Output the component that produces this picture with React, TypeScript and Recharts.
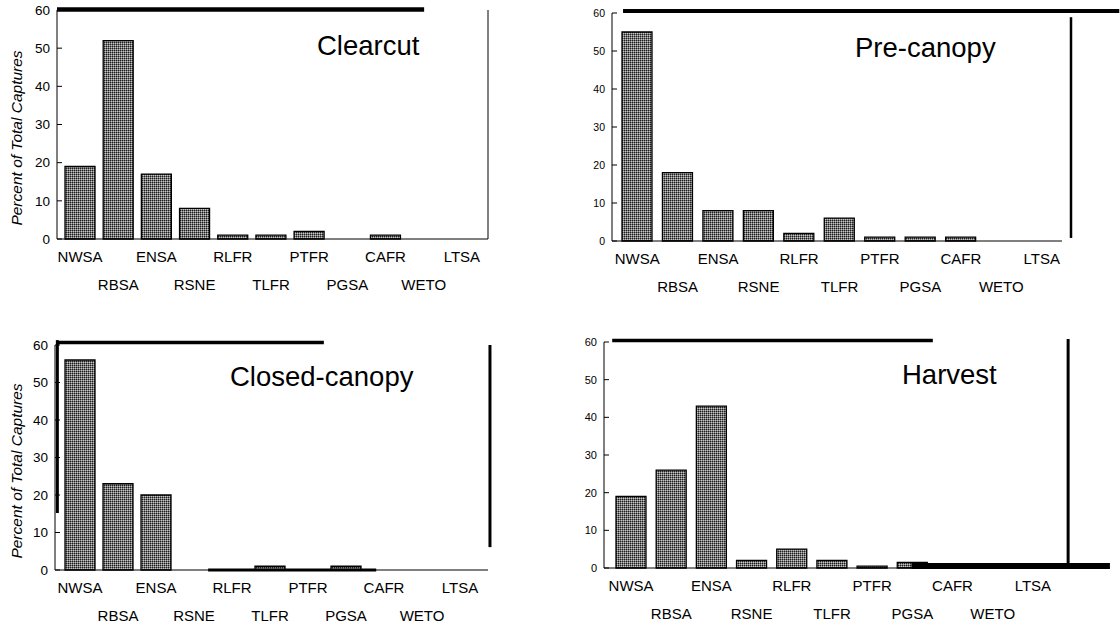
import React from "react";
import { BarChart, Bar, XAxis, YAxis, ReferenceLine } from "recharts";

const species = ["NWSA", "RBSA", "ENSA", "RSNE", "RLFR", "TLFR", "PTFR", "PGSA", "CAFR", "WETO", "LTSA"];

// percent of total captures per habitat
const clearcut = [19, 52, 17, 8, 1, 1, 2, 0, 1, 0, 0];
const preCanopy = [55, 18, 8, 8, 2, 6, 1, 1, 1, 0, 0];
const closedCanopy = [56, 23, 20, 0, 0, 1, 0, 1, 0, 0, 0];
const harvest = [19, 26, 43, 2, 5, 2, 0.5, 1.5, 0, 0, 0];

const yTicks = [0, 10, 20, 30, 40, 50, 60];

const FONT = "'Liberation Sans', Arial, Helvetica, sans-serif";

type Seg = { x1: number; x2: number; y1: number; y2: number; w: number };

const panels = [
  {
    id: "cc",
    title: "Clearcut",
    values: clearcut,
    left: 0,
    top: 0,
    margin: { top: 10, right: 72, left: 27, bottom: 14 },
    xHeight: 60,
    pad: { left: 4, right: 7 },
    yFont: 13.5,
    yLabelY: 138,
    titleX: 317,
    titleY: 55,
    frame: [
      { x1: 0, x2: 9.37, y1: 60.1, y2: 60.1, w: 4.5 },
      { x1: 11, x2: 11, y1: 0, y2: 60, w: 1 },
    ] as Seg[],
  },
  {
    id: "pc",
    title: "Pre-canopy",
    values: preCanopy,
    left: 560,
    top: 0,
    margin: { top: 13, right: 58, left: 22, bottom: 12 },
    xHeight: 60,
    pad: { left: 5, right: 0 },
    yFont: 10.5,
    yLabelY: null,
    titleX: 295,
    titleY: 57,
    frame: [
      { x1: 0.27, x2: 12.4, y1: 60.5, y2: 60.5, w: 4 },
      { x1: 11.22, x2: 11.22, y1: 0.8, y2: 58.9, w: 2.5 },
    ] as Seg[],
  },
  {
    id: "cl",
    title: "Closed-canopy",
    values: closedCanopy,
    left: 0,
    top: 313,
    margin: { top: 32, right: 72, left: 25, bottom: 6 },
    xHeight: 50,
    pad: { left: 6, right: 9 },
    yFont: 13.5,
    yLabelY: 158,
    titleX: 230,
    titleY: 73,
    frame: [
      { x1: 0.05, x2: 6.83, y1: 60.7, y2: 60.7, w: 3.5 },
      { x1: 0.06, x2: 0.06, y1: 15.2, y2: 61.3, w: 3 },
      { x1: 11.05, x2: 11.05, y1: 6.1, y2: 60, w: 3 },
      { x1: 3.89, x2: 8.16, y1: 0, y2: 0, w: 3 },
    ] as Seg[],
  },
  {
    id: "hv",
    title: "Harvest",
    values: harvest,
    left: 560,
    top: 313,
    margin: { top: 29, right: 65, left: 14, bottom: 8 },
    xHeight: 50,
    pad: { left: 7, right: 2 },
    yFont: 11,
    yLabelY: null,
    titleX: 342,
    titleY: 71,
    frame: [
      { x1: 0.2, x2: 8.02, y1: 60.4, y2: 60.4, w: 3.5 },
      { x1: 11.32, x2: 11.32, y1: 1.3, y2: 60.8, w: 3 },
      { x1: 7.5, x2: 12.34, y1: 0.5, y2: 0.5, w: 6 },
    ] as Seg[],
  },
];

const StaggerTick = (props: any) => {
  const { x, y, payload } = props;
  const i = species.indexOf(payload.value);
  return (
    <text x={x} y={y + (i % 2 === 0 ? 15 : 43)} textAnchor="middle" fontSize={15} fontFamily={FONT} fill="#000">
      {payload.value}
    </text>
  );
};

function Panel({ p }: { p: (typeof panels)[number] }) {
  // slot = position of the species along a 0..11 strip, used by the frame axis
  const data = species.map((s, i) => ({ species: s, pct: p.values[i], slot: i + 0.5 }));
  const pat = `dots-${p.id}`;
  return (
    <div style={{ position: "absolute", left: p.left, top: p.top }}>
      <BarChart width={560} height={313} data={data} margin={p.margin} barSize={30}>
        <defs>
          <pattern id={pat} width={2} height={2} patternUnits="userSpaceOnUse">
            <rect width={2} height={2} fill="#767676" />
            <rect width={1} height={1} fill="#1e1e1e" />
            <rect x={1} y={1} width={1} height={1} fill="#c4c4c4" />
          </pattern>
        </defs>
        <XAxis
          dataKey="species"
          interval={0}
          tickLine={false}
          axisLine={{ stroke: "#000" }}
          height={p.xHeight}
          padding={p.pad}
          tick={<StaggerTick />}
        />
        <XAxis
          xAxisId="frame"
          dataKey="slot"
          type="number"
          domain={[0, 11]}
          ticks={[0, 11]}
          allowDataOverflow
          hide
        />
        <YAxis
          domain={[0, 60]}
          ticks={yTicks}
          width={30}
          tickSize={-5}
          tickMargin={12}
          axisLine={{ stroke: "#000" }}
          tickLine={{ stroke: "#000" }}
          tick={{ fontSize: p.yFont, fontFamily: FONT, fill: "#000" }}
        />
        <Bar dataKey="pct" fill={`url(#${pat})`} stroke="#000" strokeWidth={1.3} isAnimationActive={false} />
        {p.frame.map((s, k) => (
          <ReferenceLine
            key={k}
            xAxisId="frame"
            ifOverflow="visible"
            segment={[
              { x: s.x1, y: s.y1 },
              { x: s.x2, y: s.y2 },
            ]}
            stroke="#000"
            strokeWidth={s.w}
          />
        ))}
        <text x={p.titleX} y={p.titleY} fontSize={27.5} fontFamily={FONT} fill="#000">
          {p.title}
        </text>
        {p.yLabelY !== null && (
          <text
            x={22}
            y={p.yLabelY}
            transform={`rotate(-90 22 ${p.yLabelY})`}
            textAnchor="middle"
            fontSize={15.5}
            fontStyle="italic"
            fontFamily={FONT}
            fill="#000"
          >
            Percent of Total Captures
          </text>
        )}
      </BarChart>
    </div>
  );
}

export default function App() {
  return (
    <div style={{ position: "absolute", left: 0, top: 0, width: 1120, height: 626, background: "#fff", overflow: "hidden" }}>
      {panels.map((p) => (
        <Panel key={p.id} p={p} />
      ))}
    </div>
  );
}
